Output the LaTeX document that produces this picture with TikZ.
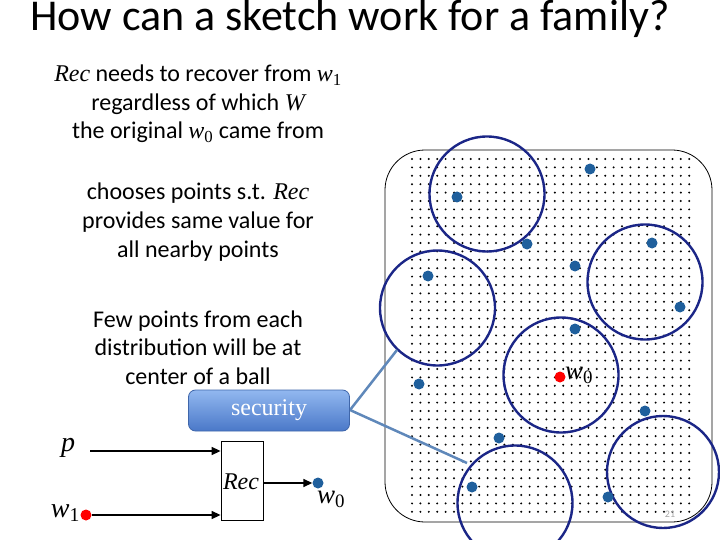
\documentclass[tikz,border=0pt]{standalone}
\usepackage{fontspec}
\setmainfont{Carlito}
\newfontfamily\tnr{Liberation Serif}
\usetikzlibrary{arrows.meta}
\newcommand\mi[1]{{\tnr\itshape #1}}
\newcommand\subx[1]{{\tnr\upshape\textsubscript{#1}}}
\definecolor{navy}{HTML}{1B2687}
\definecolor{bdot}{HTML}{1F5F9C}
\definecolor{callout}{HTML}{5F88BA}
\definecolor{sectop}{HTML}{92B8F0}
\definecolor{secbot}{HTML}{4A78C8}
\tikzset{
  ball/.style={draw=navy, line width=2.4pt},
  bpt/.style={circle, fill=bdot, inner sep=0pt, minimum size=11pt},
  rpt/.style={circle, fill=red, inner sep=0pt, minimum size=11pt},
  gdot/.style={fill=black},
  body/.style={font=\fontsize{24}{28}\selectfont, anchor=base, inner sep=0pt},
  arr/.style={line width=1.5pt, -{Triangle[length=9pt,width=8pt]}},
  lab/.style={font=\fontsize{28}{30}\selectfont\tnr\itshape, inner sep=1pt}
}
\begin{document}
\begin{tikzpicture}[x=1pt,y=-1pt]
\useasboundingbox (0,0) rectangle (720,540);
% title
\node[anchor=base west, inner sep=0pt, font=\fontsize{44}{48}\selectfont] (title) at (30,31) {How can a sketch work for a family?};
% left texts
\node[body] (t1) at (198,82) {\mi{Rec} needs to recover from \mi{w}\subx{1}};
\node[body] (t2) at (198,110.5) {regardless of which \mi{W}};
\node[body] (t3) at (198,139) {the original \mi{w}\subx{0} came from};
\node[body] (t4) at (198,200) {chooses points s.t. \mi{Rec}};
\node[body] (t5) at (198,228.5) {provides same value for};
\node[body] (t6) at (198,257) {all nearby points};
\node[body] (t7) at (198,327) {Few points from each};
\node[body] (t8) at (198,355.5) {distribution will be at};
\node[body] (t9) at (198,384) {center of a ball};
% region
\draw[line width=0.8pt, rounded corners=40pt] (385,150) rectangle (712,522);
\foreach \i in {0,...,33} {
  \foreach \j in {0,...,42} {
    \fill[gdot] (412+\i*8.4, 159+\j*8.4) circle (1.1pt);
  }
}
% balls
\draw[ball] (487,194) circle (57.5pt);
\draw[ball] (437.5,308) circle (57.5pt);
\draw[ball] (645,282) circle (57.5pt);
\draw[ball] (561,375) circle (57.5pt);
\draw[ball] (515,503) circle (57.5pt);
\draw[ball] (663,472) circle (56pt);
% points
\node[bpt] (p1) at (590,169) {};
\node[bpt] (p2) at (457,197) {};
\node[bpt] (p3) at (527,244) {};
\node[bpt] (p4) at (428,276) {};
\node[bpt] (p5) at (575,266) {};
\node[bpt] (p6) at (652,243) {};
\node[bpt] (p7) at (680,307) {};
\node[bpt] (p8) at (575,329) {};
\node[bpt] (p9) at (419,384) {};
\node[bpt] (p10) at (645,411) {};
\node[bpt] (p11) at (499,438) {};
\node[bpt] (p12) at (472,487) {};
\node[bpt] (p13) at (608,497) {};
\node[rpt] (w0c) at (560,377) {};
\node[lab, anchor=west, font=\fontsize{27}{28}\selectfont\tnr\itshape] (w0cl) at (564,375) {w\subx{0}};
\node[font=\fontsize{10}{12}\selectfont, text=gray!70] (pg) at (670,514) {21};
% security callout
\coordinate (c1) at (397,350);
\coordinate (c2) at (467,463);
\draw[callout, line width=2.5pt] (c1) -- (350,410) -- (c2);
\node[draw=secbot!85!black, line width=0.8pt, rounded corners=7pt, top color=sectop, bottom color=secbot, minimum width=161pt, minimum height=41pt, text=white, font=\fontsize{24}{26}\selectfont\tnr] (sec) at (269,410.5) {security};
% Rec block
\node[draw, line width=0.8pt, minimum width=42pt, minimum height=79pt, inner sep=0pt] (rec) at (242,480.5) {};
\node[font=\fontsize{24}{26}\selectfont\tnr\itshape, inner sep=0pt] (reclab) at (241,482) {Rec};
\node[lab] (p) at (68,448) {p};
\node[rpt] (w1) at (86,515) {};
\node[lab, anchor=east] (w1l) at (81,513) {w\subx{1}};
\node[bpt] (out) at (318,483) {};
\node[lab, font=\fontsize{27}{28}\selectfont\tnr\itshape] (outl) at (331,499) {w\subx{0}};
\draw[arr] (90,451) -- (rec.west |- 0,451);
\draw[arr] (w1) -- (rec.west |- w1);
\draw[arr] (rec.east |- out) -- (out.west);
\end{tikzpicture}
\end{document}
